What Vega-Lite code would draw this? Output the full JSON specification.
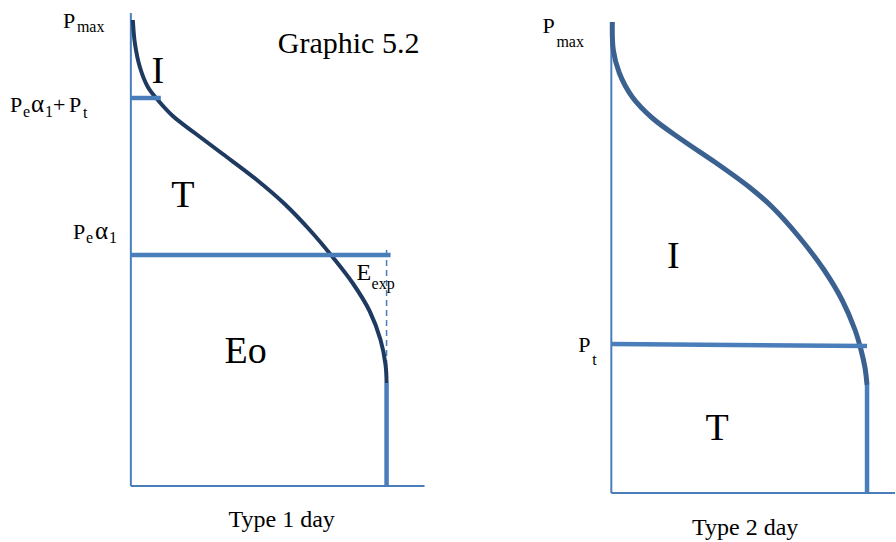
{
  "$schema": "https://vega.github.io/schema/vega-lite/v6.json",
  "width": 896,
  "height": 542,
  "padding": 0,
  "autosize": {"type": "fit", "contains": "padding"},
  "background": "white",
  "config": {"view": {"stroke": null}},
  "datasets": {
    "axes": [
      {"x": 131, "y": 13, "x2": 131, "y2": 486},
      {"x": 131, "y": 486, "x2": 425, "y2": 486},
      {"x": 612, "y": 22, "x2": 612, "y2": 493},
      {"x": 612, "y": 493, "x2": 896, "y2": 493}
    ],
    "levels": [
      {"x": 131, "y": 98, "x2": 161, "y2": 98},
      {"x": 131, "y": 255, "x2": 391, "y2": 255},
      {"x": 612, "y": 344, "x2": 868, "y2": 346},
      {"x": 387, "y": 383, "x2": 387, "y2": 486},
      {"x": 868, "y": 385, "x2": 868, "y2": 493}
    ],
    "dashed": [
      {"x": 387, "y": 250, "x2": 387, "y2": 383}
    ],
    "curve1": [
      {"i": 0, "x": 133, "y": 20},
      {"i": 1, "x": 135, "y": 43},
      {"i": 2, "x": 140, "y": 67},
      {"i": 3, "x": 148, "y": 87},
      {"i": 4, "x": 158, "y": 100},
      {"i": 5, "x": 173, "y": 116},
      {"i": 6, "x": 195, "y": 133},
      {"i": 7, "x": 223, "y": 154},
      {"i": 8, "x": 256, "y": 179},
      {"i": 9, "x": 285, "y": 204},
      {"i": 10, "x": 311, "y": 231},
      {"i": 11, "x": 333, "y": 257},
      {"i": 12, "x": 353, "y": 283},
      {"i": 13, "x": 370, "y": 311},
      {"i": 14, "x": 381, "y": 340},
      {"i": 15, "x": 386, "y": 365},
      {"i": 16, "x": 387, "y": 383}
    ],
    "curve2": [
      {"i": 0, "x": 613, "y": 22},
      {"i": 1, "x": 614, "y": 50},
      {"i": 2, "x": 620, "y": 73},
      {"i": 3, "x": 633, "y": 97},
      {"i": 4, "x": 653, "y": 118},
      {"i": 5, "x": 683, "y": 140},
      {"i": 6, "x": 717, "y": 163},
      {"i": 7, "x": 750, "y": 187},
      {"i": 8, "x": 773, "y": 207},
      {"i": 9, "x": 800, "y": 237},
      {"i": 10, "x": 825, "y": 270},
      {"i": 11, "x": 843, "y": 300},
      {"i": 12, "x": 856, "y": 330},
      {"i": 13, "x": 862, "y": 350},
      {"i": 14, "x": 866, "y": 368},
      {"i": 15, "x": 868, "y": 385}
    ],
    "title": [
      {"x": 349, "y": 53, "text": "Graphic 5.2"}
    ],
    "regions": [
      {"x": 158, "y": 83, "text": "I"},
      {"x": 183, "y": 207, "text": "T"},
      {"x": 246, "y": 363, "text": "Eo"},
      {"x": 674, "y": 268, "text": "I"},
      {"x": 718, "y": 440, "text": "T"}
    ],
    "labels": [
      {"x": 63, "y": 28, "text": "P"},
      {"x": 10, "y": 112, "text": "P"},
      {"x": 53, "y": 112, "text": "+"},
      {"x": 69, "y": 112, "text": "P"},
      {"x": 73, "y": 239, "text": "P"},
      {"x": 543, "y": 33, "text": "P"},
      {"x": 579, "y": 352, "text": "P"}
    ],
    "greek": [
      {"x": 31, "y": 112, "text": "α"},
      {"x": 95, "y": 239, "text": "α"}
    ],
    "elabel": [
      {"x": 357, "y": 280, "text": "E"}
    ],
    "subs": [
      {"x": 77, "y": 32, "text": "max"},
      {"x": 23, "y": 117, "text": "e"},
      {"x": 45, "y": 117, "text": "1"},
      {"x": 83, "y": 118, "text": "t"},
      {"x": 86, "y": 243, "text": "e"},
      {"x": 109, "y": 243, "text": "1"},
      {"x": 557, "y": 47, "text": "max"},
      {"x": 593, "y": 365, "text": "t"},
      {"x": 372, "y": 289, "text": "exp"}
    ],
    "captions": [
      {"x": 282, "y": 527, "text": "Type 1 day"},
      {"x": 746, "y": 535, "text": "Type 2 day"}
    ]
  },
  "encoding": {
    "x": {"field": "x", "type": "quantitative", "scale": {"domain": [0, 896], "nice": false, "zero": false}, "axis": null},
    "y": {"field": "y", "type": "quantitative", "scale": {"domain": [0, 542], "nice": false, "zero": false, "reverse": true}, "axis": null}
  },
  "layer": [
    {
      "data": {"name": "axes"},
      "mark": {"type": "rule", "color": "#4a7ebb", "strokeWidth": 2},
      "encoding": {"x2": {"field": "x2"}, "y2": {"field": "y2"}}
    },
    {
      "data": {"name": "dashed"},
      "mark": {"type": "rule", "color": "#4a7ebb", "strokeWidth": 1.5, "strokeDash": [6, 4]},
      "encoding": {"x2": {"field": "x2"}, "y2": {"field": "y2"}}
    },
    {
      "data": {"name": "curve1"},
      "mark": {"type": "line", "color": "#1f3a60", "strokeWidth": 4, "interpolate": "catmull-rom", "strokeCap": "butt"},
      "encoding": {"order": {"field": "i", "type": "quantitative"}}
    },
    {
      "data": {"name": "curve2"},
      "mark": {"type": "line", "color": "#3a6190", "strokeWidth": 5, "interpolate": "catmull-rom", "strokeCap": "butt"},
      "encoding": {"order": {"field": "i", "type": "quantitative"}}
    },
    {
      "data": {"name": "levels"},
      "mark": {"type": "rule", "color": "#4a7ebb", "strokeWidth": 4.5},
      "encoding": {"x2": {"field": "x2"}, "y2": {"field": "y2"}}
    },
    {
      "data": {"name": "title"},
      "mark": {"type": "text", "font": "Liberation Serif", "fontSize": 30, "align": "center", "baseline": "alphabetic", "color": "black"},
      "encoding": {"text": {"field": "text"}}
    },
    {
      "data": {"name": "regions"},
      "mark": {"type": "text", "font": "Liberation Serif", "fontSize": 38, "align": "center", "baseline": "alphabetic", "color": "black"},
      "encoding": {"text": {"field": "text"}}
    },
    {
      "data": {"name": "labels"},
      "mark": {"type": "text", "font": "Liberation Serif", "fontSize": 22, "align": "left", "baseline": "alphabetic", "color": "black"},
      "encoding": {"text": {"field": "text"}}
    },
    {
      "data": {"name": "greek"},
      "mark": {"type": "text", "font": "Liberation Serif", "fontSize": 25, "align": "left", "baseline": "alphabetic", "color": "black"},
      "encoding": {"text": {"field": "text"}}
    },
    {
      "data": {"name": "elabel"},
      "mark": {"type": "text", "font": "Liberation Serif", "fontSize": 24, "align": "left", "baseline": "alphabetic", "color": "black"},
      "encoding": {"text": {"field": "text"}}
    },
    {
      "data": {"name": "subs"},
      "mark": {"type": "text", "font": "Liberation Serif", "fontSize": 16, "align": "left", "baseline": "alphabetic", "color": "black"},
      "encoding": {"text": {"field": "text"}}
    },
    {
      "data": {"name": "captions"},
      "mark": {"type": "text", "font": "Liberation Serif", "fontSize": 24, "align": "center", "baseline": "alphabetic", "color": "black"},
      "encoding": {"text": {"field": "text"}}
    }
  ]
}
